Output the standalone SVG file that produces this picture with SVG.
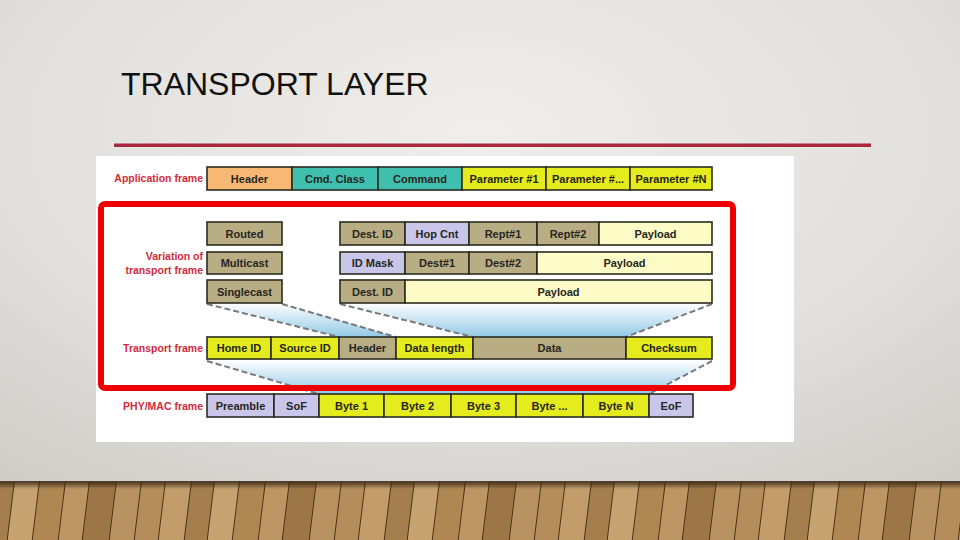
<svg xmlns="http://www.w3.org/2000/svg" width="960" height="540" viewBox="0 0 960 540">
<defs>
<radialGradient id="bg" cx="0.5" cy="0.25" r="0.8">
<stop offset="0" stop-color="#efeeeb"/>
<stop offset="0.6" stop-color="#e2e0dc"/>
<stop offset="1" stop-color="#cfcdc8"/>
</radialGradient>
<linearGradient id="fan" x1="0" y1="0" x2="0" y2="1">
<stop offset="0" stop-color="#ffffff"/>
<stop offset="1" stop-color="#92c9e6"/>
</linearGradient>
<linearGradient id="shadow" x1="0" y1="0" x2="0" y2="1">
<stop offset="0" stop-color="#2a1c0e" stop-opacity="0.85"/>
<stop offset="1" stop-color="#2a1c0e" stop-opacity="0"/>
</linearGradient>
<pattern id="wood" x="0" y="482" width="200" height="60" patternUnits="userSpaceOnUse" patternTransform="skewX(-7)">
<rect x="0" y="0" width="24" height="60" fill="#b48d5a"/>
<rect x="24" y="0" width="26" height="60" fill="#c29c69"/>
<rect x="50" y="0" width="23" height="60" fill="#a57e4d"/>
<rect x="73" y="0" width="25" height="60" fill="#c7a271"/>
<rect x="98" y="0" width="26" height="60" fill="#ae8753"/>
<rect x="124" y="0" width="24" height="60" fill="#bd9664"/>
<rect x="148" y="0" width="27" height="60" fill="#9d7647"/>
<rect x="175" y="0" width="25" height="60" fill="#b99261"/>
<g stroke="#4a3219" stroke-width="1">
<line x1="0.5" y1="0" x2="0.5" y2="60"/><line x1="24.5" y1="0" x2="24.5" y2="60"/><line x1="50.5" y1="0" x2="50.5" y2="60"/><line x1="73.5" y1="0" x2="73.5" y2="60"/><line x1="98.5" y1="0" x2="98.5" y2="60"/><line x1="124.5" y1="0" x2="124.5" y2="60"/><line x1="148.5" y1="0" x2="148.5" y2="60"/><line x1="175.5" y1="0" x2="175.5" y2="60"/>
</g>
</pattern>
<style>
.b{stroke:#2b2b20;stroke-width:1.6}
.or{fill:#f8b874}.te{fill:#3fbfae}.ye{fill:#e4ec1e}.ta{fill:#b9ad83}.la{fill:#c9c6ea}.py{fill:#fdfcc6}
.t{font-family:"Liberation Sans",Arial,sans-serif;font-weight:bold;font-size:11px;fill:#26261f;text-anchor:middle}
.r{font-family:"Liberation Sans",Arial,sans-serif;font-weight:bold;font-size:10.5px;fill:#d22a3c;text-anchor:end}
.d{fill:none;stroke:#7a7a7a;stroke-width:2;stroke-dasharray:6 3}
</style>
</defs>
<rect width="960" height="540" fill="url(#bg)"/>
<g id="floor">
<rect x="0" y="482" width="960" height="58" fill="url(#wood)"/>
<rect x="0" y="481" width="960" height="8" fill="url(#shadow)"/>
</g>
<text x="121" y="95" font-family="'Liberation Sans',Arial,sans-serif" font-size="32" fill="#111">TRANSPORT LAYER</text>
<rect x="114" y="143.5" width="757" height="3.5" fill="#a8283f"/>
<rect x="96" y="156" width="698" height="286" fill="#ffffff"/>
<g id="connectors">
<polygon points="207,303 282,303 396,337 339,337" fill="url(#fan)"/>
<polygon points="340,303 712,303 626,337 473,337" fill="url(#fan)"/>
<polygon points="207,360 712,360 649,394 319,394" fill="url(#fan)"/>
<line class="d" x1="207" y1="304" x2="339" y2="337"/>
<line class="d" x1="282" y1="304" x2="396" y2="337"/>
<line class="d" x1="340" y1="304" x2="473" y2="337"/>
<line class="d" x1="712" y1="304" x2="626" y2="337"/>
<line class="d" x1="207" y1="361" x2="319" y2="394"/>
<line class="d" x1="712" y1="361" x2="649" y2="394"/>
</g>
<g id="application-frame">
<text class="r" x="203" y="182">Application frame</text>
<rect class="b or" x="207" y="167" width="85" height="23"/><text class="t" x="249.5" y="182.5">Header</text>
<rect class="b te" x="292" y="167" width="86" height="23"/><text class="t" x="335" y="182.5">Cmd. Class</text>
<rect class="b te" x="378" y="167" width="84" height="23"/><text class="t" x="420" y="182.5">Command</text>
<rect class="b ye" x="462" y="167" width="84" height="23"/><text class="t" x="504" y="182.5">Parameter #1</text>
<rect class="b ye" x="546" y="167" width="84" height="23"/><text class="t" x="588" y="182.5">Parameter #...</text>
<rect class="b ye" x="630" y="167" width="82" height="23"/><text class="t" x="671" y="182.5">Parameter #N</text>
</g>
<g id="variation-label">
<text class="r" x="203" y="260">Variation of</text>
<text class="r" x="203" y="274">transport frame</text>
</g>
<g id="routed">
<rect class="b ta" x="207" y="222" width="75" height="23"/><text class="t" x="244.5" y="237.5">Routed</text>
<rect class="b ta" x="340" y="222" width="65" height="23"/><text class="t" x="372.5" y="237.5">Dest. ID</text>
<rect class="b la" x="405" y="222" width="64" height="23"/><text class="t" x="437" y="237.5">Hop Cnt</text>
<rect class="b ta" x="469" y="222" width="68" height="23"/><text class="t" x="503" y="237.5">Rept#1</text>
<rect class="b ta" x="537" y="222" width="62" height="23"/><text class="t" x="568" y="237.5">Rept#2</text>
<rect class="b py" x="599" y="222" width="113" height="23"/><text class="t" x="655.5" y="237.5">Payload</text>
</g>
<g id="multicast">
<rect class="b ta" x="207" y="252" width="75" height="22"/><text class="t" x="244.5" y="267">Multicast</text>
<rect class="b la" x="340" y="252" width="65" height="22"/><text class="t" x="372.5" y="267">ID Mask</text>
<rect class="b ta" x="405" y="252" width="64" height="22"/><text class="t" x="437" y="267">Dest#1</text>
<rect class="b ta" x="469" y="252" width="68" height="22"/><text class="t" x="503" y="267">Dest#2</text>
<rect class="b py" x="537" y="252" width="175" height="22"/><text class="t" x="624.5" y="267">Payload</text>
</g>
<g id="singlecast">
<rect class="b ta" x="207" y="280" width="75" height="23"/><text class="t" x="244.5" y="295.5">Singlecast</text>
<rect class="b ta" x="340" y="280" width="65" height="23"/><text class="t" x="372.5" y="295.5">Dest. ID</text>
<rect class="b py" x="405" y="280" width="307" height="23"/><text class="t" x="558.5" y="295.5">Payload</text>
</g>
<g id="transport-frame">
<text class="r" x="203" y="352">Transport frame</text>
<rect class="b ye" x="207" y="337" width="64" height="22"/><text class="t" x="239" y="352">Home ID</text>
<rect class="b ye" x="271" y="337" width="68" height="22"/><text class="t" x="305" y="352">Source ID</text>
<rect class="b ta" x="339" y="337" width="57" height="22"/><text class="t" x="367.5" y="352">Header</text>
<rect class="b ye" x="396" y="337" width="77" height="22"/><text class="t" x="434.5" y="352">Data length</text>
<rect class="b ta" x="473" y="337" width="153" height="22"/><text class="t" x="549.5" y="352">Data</text>
<rect class="b ye" x="626" y="337" width="86" height="22"/><text class="t" x="669" y="352">Checksum</text>
</g>
<rect id="highlight" x="101" y="204" width="632" height="184" rx="4" fill="none" stroke="#ee0000" stroke-width="6"/>
<g id="phy-mac-frame">
<text class="r" x="203" y="410">PHY/MAC frame</text>
<rect class="b la" x="207" y="394" width="67" height="23"/><text class="t" x="240.5" y="409.5">Preamble</text>
<rect class="b la" x="274" y="394" width="45" height="23"/><text class="t" x="296.5" y="409.5">SoF</text>
<rect class="b ye" x="319" y="394" width="65" height="23"/><text class="t" x="351.5" y="409.5">Byte 1</text>
<rect class="b ye" x="384" y="394" width="67" height="23"/><text class="t" x="417.5" y="409.5">Byte 2</text>
<rect class="b ye" x="451" y="394" width="65" height="23"/><text class="t" x="483.5" y="409.5">Byte 3</text>
<rect class="b ye" x="516" y="394" width="67" height="23"/><text class="t" x="549.5" y="409.5">Byte ...</text>
<rect class="b ye" x="583" y="394" width="66" height="23"/><text class="t" x="616" y="409.5">Byte N</text>
<rect class="b la" x="649" y="394" width="44" height="23"/><text class="t" x="671" y="409.5">EoF</text>
</g>
</svg>
